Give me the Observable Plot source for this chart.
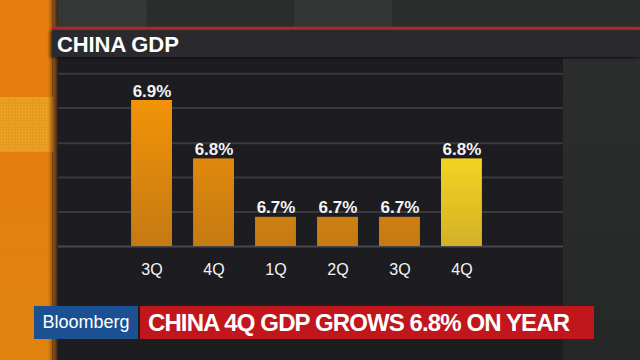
<!DOCTYPE html>
<html><head><meta charset="utf-8">
<script src="https://cdn.jsdelivr.net/npm/d3@7"></script>
<script src="https://cdn.jsdelivr.net/npm/@observablehq/plot@0.6"></script>
<style>
html,body{margin:0;padding:0;background:#1d1e21;}
#stage{position:relative;width:640px;height:360px;overflow:hidden;font-family:"Liberation Sans",Arial,Helvetica,sans-serif;}
.abs{position:absolute;}
#chart{position:absolute;left:0;top:0;}
#chart svg{display:block;}
</style></head><body>
<div id="stage">
  <div class="abs" style="left:0;top:0;width:640px;height:28px;background:#2b2d2d"></div>
  <div class="abs" style="left:58px;top:0;width:89px;height:28px;background:#363838;background-image:radial-gradient(#2e3030 0.8px,transparent 0.9px);background-size:3px 3px"></div>
  <div class="abs" style="left:294px;top:0;width:98px;height:28px;background:#333535"></div>
  <div class="abs" style="left:0;top:0;width:52px;height:360px;background:linear-gradient(to bottom,#e77d0f 0%,#e57d0e 40%,#e0840f 100%)"></div>
  <div class="abs" style="left:0;top:97px;width:55px;height:55px;background:#e69a1e;background-image:radial-gradient(#efb53a 0.9px,transparent 1px);background-size:3px 3px"></div>
  <div class="abs" style="left:48px;top:0;width:10px;height:360px;background:linear-gradient(to right,rgba(200,110,10,0),#8a4f12 60%,#2a2022)"></div>
  <div class="abs" style="left:58px;top:58px;width:505px;height:302px;background:#1c1c21"></div>
  <div class="abs" style="left:563px;top:58px;width:77px;height:302px;background:linear-gradient(to bottom,#2c2d2d,#262727)"></div>
  <div id="chart"></div>
  <div class="abs" style="left:52px;top:27px;width:588px;height:3px;background:#b3272b;box-shadow:0 0 3px rgba(200,40,40,0.6)"></div>
  <div class="abs" style="left:52px;top:30px;width:588px;height:27px;background:#29292e;box-shadow:-2px 1px 3px rgba(0,0,0,0.5)"></div>
  <div class="abs" id="title" style="left:57px;top:30px;height:27px;line-height:29px;color:#fff;font-weight:bold;font-size:22px;letter-spacing:-0.1px;white-space:nowrap"></div>
  <div class="abs" id="brand" style="left:34px;top:306px;width:104px;height:33px;line-height:33px;background:#1b5192;color:#fff;font-size:18px;text-align:center;white-space:nowrap"></div>
  <div class="abs" id="headline" style="left:140px;top:306px;width:454px;height:33px;line-height:34px;background:#c1161c;color:#fff;font-weight:bold;font-size:24px;letter-spacing:-0.9px;white-space:nowrap;box-sizing:border-box;padding-left:8px"></div>
</div>
<script>
const periods = ["3Q 2015","4Q 2015","1Q 2016","2Q 2016","3Q 2016","4Q 2016"];
const tickLabels = ["3Q","4Q","1Q","2Q","3Q","4Q"];
const gdpGrowth = [6.9,6.8,6.7,6.7,6.7,6.8];
const valueLabels = ["6.9%","6.8%","6.7%","6.7%","6.7%","6.8%"];
const highlight = [false,false,false,false,false,true];
const gridValues = [6.65,6.709,6.768,6.827,6.887,6.946];
const yBase = 6.65;
const yTop = 6.9;
const titleText = "CHINA GDP";
const headlineText = "CHINA 4Q GDP GROWS 6.8% ON YEAR";
const brandText = "Bloomberg";

document.getElementById("title").textContent = titleText;
document.getElementById("headline").textContent = headlineText;
document.getElementById("brand").textContent = brandText;

const data = periods.map((p,i)=>({period:p, tick:tickLabels[i], value:gdpGrowth[i], label:valueLabels[i], latest:highlight[i]}));
const tickMap = new Map(periods.map((p,i)=>[p,tickLabels[i]]));

const chart = Plot.plot({
  width:640, height:360,
  marginLeft:58, marginRight:77, marginTop:58, marginBottom:114,
  x:{domain:periods, range:[110,503], padding:0.34, round:false, axis:null},
  y:{domain:[yBase,yTop], range:[246,100], axis:null},
  style:{background:"transparent", color:"#fff", fontFamily:"'Liberation Sans',Arial,Helvetica,sans-serif", overflow:"visible"},
  marks:[
    Plot.ruleY(gridValues.slice(1), {stroke:"#39393e", strokeWidth:2}),
    Plot.ruleY([yBase], {stroke:"#48484d", strokeWidth:2}),
    Plot.barY(data, {filter:d=>!d.latest, x:"period", y1:yBase, y2:"value", fill:"url(#gradOrange)"}),
    Plot.barY(data, {filter:d=>d.latest, x:"period", y1:yBase, y2:"value", fill:"url(#gradYellow)"}),
    Plot.text(data, {x:"period", y:"value", text:"label", dy:-4, lineAnchor:"bottom", fill:"#f4f4f4", fontSize:17, fontWeight:"bold"}),
    Plot.text(data, {x:"period", y:yBase, text:d=>tickMap.get(d.period), dy:23, lineAnchor:"middle", fill:"#f4f4f4", fontSize:16})
  ]
});

const ys = chart.scale("y");
const yTopPx = ys.apply(yTop), yBasePx = ys.apply(yBase);
const defs = d3.select(chart).insert("defs", ":first-child");
const g1 = defs.append("linearGradient").attr("id","gradOrange").attr("gradientUnits","userSpaceOnUse")
  .attr("x1",0).attr("x2",0).attr("y1",yTopPx).attr("y2",yBasePx);
g1.append("stop").attr("offset","0%").attr("stop-color","#f29308");
g1.append("stop").attr("offset","100%").attr("stop-color","#c47a13");
const yLatest = ys.apply(gdpGrowth[gdpGrowth.length-1]);
const g2 = defs.append("linearGradient").attr("id","gradYellow").attr("gradientUnits","userSpaceOnUse")
  .attr("x1",0).attr("x2",0).attr("y1",yLatest).attr("y2",yBasePx);
g2.append("stop").attr("offset","0%").attr("stop-color","#f3d320");
g2.append("stop").attr("offset","100%").attr("stop-color","#d3b128");

document.getElementById("chart").appendChild(chart);
</script>
</body></html>
